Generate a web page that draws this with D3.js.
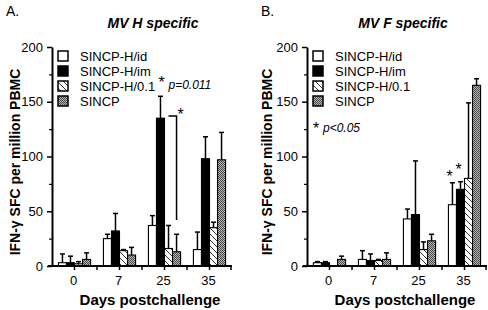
<!DOCTYPE html>
<html>
<head>
<meta charset="utf-8">
<script src="https://cdn.jsdelivr.net/npm/d3@7"></script>
<style>
  body { margin: 0; background: #fff; }
  svg { display: block; }
  text { font-family: "Liberation Sans", Arial, Helvetica, sans-serif; }
</style>
</head>
<body>
<div id="chart"></div>
<script>
// days and groups
const days = ["0", "7", "25", "35"];
const groups = ["SINCP-H/id", "SINCP-H/im", "SINCP-H/0.1", "SINCP"];
const yTicks = [0, 50, 100, 150, 200];

// panel A: MV H specific (mean, SE)
const hMean_id = [3, 25, 37, 15];
const hMean_im = [3, 32, 135, 98];
const hMean_01 = [2, 14, 16, 35];
const hMean_sincp = [6, 10, 13, 97];
const hErr_id = [8, 4, 9, 16];
const hErr_im = [6, 16, 20, 20];
const hErr_01 = [2, 1, 21, 5];
const hErr_sincp = [6, 7, 16, 25];

// panel B: MV F specific (mean, SE)
const fMean_id = [3, 6, 43, 56];
const fMean_im = [3, 5, 47, 70];
const fMean_01 = [0, 5, 15, 80];
const fMean_sincp = [6, 6, 23, 165];
const fErr_id = [1, 8, 9, 20];
const fErr_im = [1, 6, 49, 7];
const fErr_01 = [0, 1, 7, 69];
const fErr_sincp = [3, 6, 6, 6];

const W = 488, H = 310;
const svg = d3.select("#chart").append("svg")
    .attr("width", W).attr("height", H);

// fill patterns
const defs = svg.append("defs");
const hatch = defs.append("pattern")
    .attr("id", "hatch")
    .attr("patternUnits", "userSpaceOnUse")
    .attr("width", 6).attr("height", 6);
hatch.append("rect").attr("width", 6).attr("height", 6).attr("fill", "#fff");
hatch.append("path")
    .attr("d", "M0,0 L6,6 M-1,5 L1,7 M5,-1 L7,1")
    .attr("stroke", "#000").attr("stroke-width", 0.8);

const dots = defs.append("pattern")
    .attr("id", "dots")
    .attr("patternUnits", "userSpaceOnUse")
    .attr("width", 2).attr("height", 2);
dots.append("rect").attr("width", 2).attr("height", 2).attr("fill", "#b4b4b4");
dots.append("rect").attr("width", 1).attr("height", 1).attr("fill", "#4a4a4a");
dots.append("rect").attr("x", 1).attr("y", 1).attr("width", 1).attr("height", 1).attr("fill", "#4a4a4a");

const fills = ["#fff", "#000", "url(#hatch)", "url(#dots)"];

function drawPanel(opts) {
    const { left, means, errs, title, letter, letterX, titleX, labelX } = opts;
    const g = svg.append("g");

    const x = d3.scaleBand()
        .domain(days)
        .range([left, left + 180])
        .paddingInner(0).paddingOuter(0);
    const xs = d3.scaleBand()
        .domain(groups)
        .range([0, x.bandwidth()])
        .paddingInner(0).paddingOuter(0.8);
    const y = d3.scaleLinear()
        .domain([0, 200])
        .range([266, 47]);

    // bars
    groups.forEach((grp, gi) => {
        const rows = days.map((d, i) => ({ day: d, v: means[gi][i], e: errs[gi][i] }));
        g.append("g").selectAll("rect")
            .data(rows)
            .join("rect")
            .attr("x", d => x(d.day) + xs(grp))
            .attr("y", d => y(d.v))
            .attr("width", xs.bandwidth())
            .attr("height", d => y(0) - y(d.v))
            .attr("fill", fills[gi])
            .attr("stroke", "#000")
            .attr("stroke-width", 1.1);

        // error bars (upper only)
        const eb = g.append("g").attr("stroke", "#000").attr("stroke-width", 1.5);
        rows.filter(d => d.e > 0).forEach(d => {
            const cx = x(d.day) + xs(grp) + xs.bandwidth() / 2;
            eb.append("line")
                .attr("x1", cx).attr("x2", cx)
                .attr("y1", y(d.v)).attr("y2", y(d.v + d.e));
            eb.append("line")
                .attr("x1", cx - 2.5).attr("x2", cx + 2.5)
                .attr("y1", y(d.v + d.e)).attr("y2", y(d.v + d.e));
        });
    });

    // y axis
    const ya = g.append("g")
        .attr("transform", `translate(${left},0)`)
        .call(d3.axisLeft(y).tickValues(yTicks).tickSize(5).tickSizeOuter(0).tickPadding(4));
    ya.select(".domain").attr("stroke-width", 2);
    ya.selectAll(".tick line").attr("stroke-width", 1.5);
    ya.selectAll(".tick text").attr("font-size", 13).attr("fill", "#000");
    g.append("g")
        .attr("transform", `translate(${left},0)`)
        .call(d3.axisLeft(y).tickValues([25, 75, 125, 175]).tickSize(3).tickFormat(""))
        .call(a => a.select(".domain").remove())
        .selectAll(".tick line").attr("stroke-width", 1.2);

    // x axis
    const xa = g.append("g")
        .attr("transform", `translate(0,${y(0)})`)
        .call(d3.axisBottom(x).tickSize(4).tickSizeOuter(0).tickPadding(6));
    xa.select(".domain").attr("d", `M${left - 4},0H${left + 180}`).attr("stroke-width", 2);
    xa.selectAll(".tick line").attr("stroke-width", 1.5);
    xa.selectAll(".tick text").attr("font-size", 13).attr("fill", "#000").attr("dx", -1);
    // boundary ticks between day groups
    g.append("g").selectAll("line")
        .data(days.slice(1).concat(["end"]))
        .join("line")
        .attr("x1", d => d === "end" ? left + 179 : x(d))
        .attr("x2", d => d === "end" ? left + 179 : x(d))
        .attr("y1", y(0)).attr("y2", y(0) + 4)
        .attr("stroke", "#000").attr("stroke-width", 1.5);

    // legend
    const lg = g.append("g");
    groups.forEach((grp, gi) => {
        const cy = 56 + gi * 15;
        lg.append("rect")
            .attr("x", left + 6).attr("y", cy - 5)
            .attr("width", 10).attr("height", 10)
            .attr("fill", fills[gi])
            .attr("stroke", "#000").attr("stroke-width", 1.5);
        lg.append("text")
            .attr("x", left + 28).attr("y", cy + 4.5)
            .attr("font-size", 13)
            .text(grp);
    });

    // titles and labels
    g.append("text")
        .attr("x", titleX).attr("y", 28)
        .attr("text-anchor", "middle")
        .attr("font-size", 14).attr("font-weight", "bold").attr("font-style", "italic")
        .text(title);
    g.append("text")
        .attr("x", letterX).attr("y", 16)
        .attr("font-size", 14)
        .text(letter);
    g.append("text")
        .attr("transform", `translate(${labelX},162) rotate(-90)`)
        .attr("text-anchor", "middle")
        .attr("font-size", 14).attr("font-weight", "bold")
        .text("IFN-\u03b3 SFC per million PBMC");
    g.append("text")
        .attr("x", left + 98).attr("y", 305)
        .attr("text-anchor", "middle")
        .attr("font-size", 15).attr("font-weight", "bold")
        .text("Days postchallenge");

    return { g, x, xs, y };
}

// panel A
const A = drawPanel({
    left: 52,
    means: [hMean_id, hMean_im, hMean_01, hMean_sincp],
    errs: [hErr_id, hErr_im, hErr_01, hErr_sincp],
    title: "MV H specific", letter: "A.", letterX: 6, titleX: 153, labelX: 20
});

// significance bracket, day 25: SINCP-H/im vs SINCP
{
    const { g, x, xs, y } = A;
    const xh = x("25") + xs("SINCP-H/0.1") + xs.bandwidth() / 2;
    const xg = x("25") + xs("SINCP") + xs.bandwidth() / 2;
    g.append("path")
        .attr("d", `M${xh},${y(137)}H${xg}V${y(42)}`)
        .attr("fill", "none").attr("stroke", "#000").attr("stroke-width", 1.5);
    g.append("text")
        .attr("x", xg + 1).attr("y", y(137) + 4)
        .attr("font-size", 16)
        .text("*");
    const xb = x("25") + xs("SINCP-H/im") + xs.bandwidth() / 2;
    g.append("text")
        .attr("x", xb - 2).attr("y", y(163))
        .attr("font-size", 16)
        .text("*");
    g.append("text")
        .attr("x", xb + 8).attr("y", y(163) + 1)
        .attr("font-size", 12).attr("font-style", "italic")
        .text("p=0.011");
}

// panel B
const B = drawPanel({
    left: 307,
    means: [fMean_id, fMean_im, fMean_01, fMean_sincp],
    errs: [fErr_id, fErr_im, fErr_01, fErr_sincp],
    title: "MV F specific", letter: "B.", letterX: 261, titleX: 403, labelX: 272
});

{
    const { g, x, xs, y } = B;
    const xw = x("35") + xs("SINCP-H/id") + xs.bandwidth() / 2;
    const xb = x("35") + xs("SINCP-H/im") + xs.bandwidth() / 2;
    g.append("text")
        .attr("x", xw - 6).attr("y", y(77))
        .attr("font-size", 16).text("*");
    g.append("text")
        .attr("x", xb - 5).attr("y", y(83))
        .attr("font-size", 16).text("*");
    g.append("text")
        .attr("x", 313).attr("y", y(121))
        .attr("font-size", 16).text("*");
    g.append("text")
        .attr("x", 323).attr("y", y(122))
        .attr("font-family", "'Liberation Serif', 'Times New Roman', serif")
        .attr("font-size", 12).attr("font-style", "italic")
        .text("p<0.05");
}
</script>
</body>
</html>
